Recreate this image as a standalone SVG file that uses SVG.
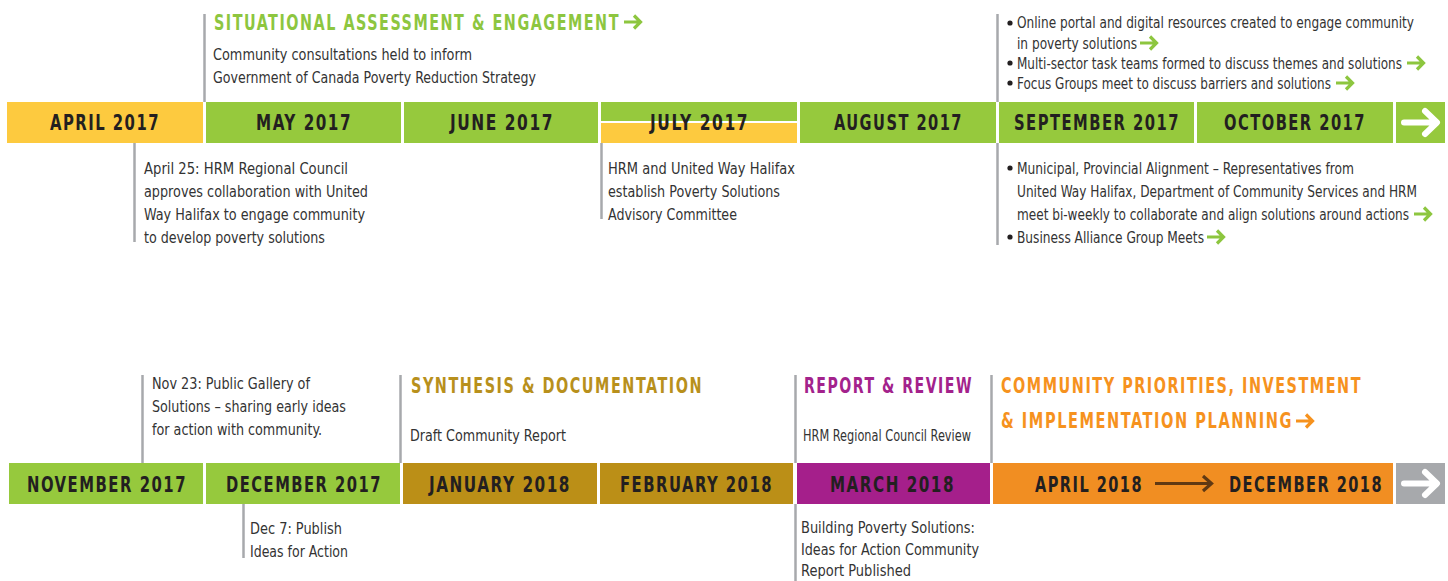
<svg xmlns="http://www.w3.org/2000/svg" width="1448" height="581" viewBox="0 0 1448 581">
<style>
.bg{fill:#ffffff}
.m{font-family:"DejaVu Sans Condensed","Liberation Sans",sans-serif;font-weight:bold;font-size:22px;letter-spacing:2px;fill:#231f20}
.h{font-family:"DejaVu Sans Condensed","Liberation Sans",sans-serif;font-weight:bold;font-size:21px;letter-spacing:2px}
.t{font-family:"DejaVu Sans Condensed","Liberation Sans",sans-serif;font-size:16.5px;fill:#333333}
.s{font-family:"DejaVu Sans Condensed","Liberation Sans",sans-serif;font-size:15px;fill:#333333}
.g{fill:#96c93d}.y{fill:#fdca3f}.o{fill:#bb8f17}.p{fill:#a51f8b}.r{fill:#f18e22}.gr{fill:#a7a9ac}
.ln{stroke:#a7a9ac;stroke-width:2.5;fill:none}
.sa{fill:none;stroke-width:3.2;stroke-linecap:butt;stroke-linejoin:miter}
.big{fill:none;stroke:#ffffff;stroke-width:6;stroke-linecap:round;stroke-linejoin:round}
</style>
<defs>
<path id="arr" d="M0,0 H16 M10,-6.5 L16.5,0 L10,6.5"/>
</defs>
<rect class="bg" width="1448" height="581"/>

<g id="connectors">
<line class="ln" x1="204.5" y1="14" x2="204.5" y2="102"/>
<line class="ln" x1="134.5" y1="143" x2="134.5" y2="242"/>
<line class="ln" x1="601.5" y1="143" x2="601.5" y2="219"/>
<line class="ln" x1="997.5" y1="14" x2="997.5" y2="102"/>
<line class="ln" x1="997.5" y1="143" x2="997.5" y2="245"/>
<line class="ln" x1="142.5" y1="375" x2="142.5" y2="463"/>
<line class="ln" x1="243.5" y1="504" x2="243.5" y2="558"/>
<line class="ln" x1="400.5" y1="375" x2="400.5" y2="463"/>
<line class="ln" x1="795.5" y1="375" x2="795.5" y2="463"/>
<line class="ln" x1="795.5" y1="504" x2="795.5" y2="581"/>
<line class="ln" x1="991.5" y1="375" x2="991.5" y2="463"/>
</g>

<g id="phase-situational">
<g transform="scale(0.8,1)">
<text class="h" x="267.5" y="30" fill="#8dc63f" textLength="507.5" lengthAdjust="spacingAndGlyphs">SITUATIONAL ASSESSMENT &amp; ENGAGEMENT</text>
<text class="t" x="266.25" y="60.5" textLength="323.75" lengthAdjust="spacingAndGlyphs">Community consultations held to inform</text>
<text class="t" x="266.25" y="83.5" textLength="403.75" lengthAdjust="spacingAndGlyphs">Government of Canada Poverty Reduction Strategy</text>
</g>
<use href="#arr" x="624" y="22" class="sa" stroke="#8dc63f"/>
</g>

<g id="apr2017">
<rect class="y" x="7" y="102" width="196" height="41"/>
<g transform="scale(0.8,1)">
<text class="m" x="62.5" y="130.5" textLength="137.5" lengthAdjust="spacingAndGlyphs">APRIL 2017</text>
<text class="t" x="180" y="174.5" textLength="255" lengthAdjust="spacingAndGlyphs">April 25: HRM Regional Council</text>
<text class="t" x="180" y="197.5" textLength="280" lengthAdjust="spacingAndGlyphs">approves collaboration with United</text>
<text class="t" x="180" y="220.5" textLength="276.25" lengthAdjust="spacingAndGlyphs">Way Halifax to engage community</text>
<text class="t" x="180" y="243.5" textLength="226.25" lengthAdjust="spacingAndGlyphs">to develop poverty solutions</text>
</g>
</g>

<g id="may2017">
<rect class="g" x="206" y="102" width="195" height="41"/>
<text class="m" transform="scale(0.8,1)" x="320" y="130.5" textLength="120" lengthAdjust="spacingAndGlyphs">MAY 2017</text>
</g>

<g id="jun2017">
<rect class="g" x="404" y="102" width="194" height="41"/>
<text class="m" transform="scale(0.8,1)" x="562.5" y="130.5" textLength="130" lengthAdjust="spacingAndGlyphs">JUNE 2017</text>
</g>

<g id="jul2017">
<rect class="g" x="601" y="102" width="196" height="19"/>
<rect class="y" x="601" y="123" width="196" height="20"/>
<g transform="scale(0.8,1)">
<text class="m" x="812.5" y="130.5" textLength="123.75" lengthAdjust="spacingAndGlyphs">JULY 2017</text>
<text class="t" x="760" y="174.5" textLength="233.75" lengthAdjust="spacingAndGlyphs">HRM and United Way Halifax</text>
<text class="t" x="760" y="197.5" textLength="215" lengthAdjust="spacingAndGlyphs">establish Poverty Solutions</text>
<text class="t" x="760" y="220.5" textLength="161.25" lengthAdjust="spacingAndGlyphs">Advisory Committee</text>
</g>
</g>

<g id="aug2017">
<rect class="g" x="800" y="102" width="196" height="41"/>
<text class="m" transform="scale(0.8,1)" x="1042.5" y="130.5" textLength="161.25" lengthAdjust="spacingAndGlyphs">AUGUST 2017</text>
</g>

<g id="sep2017">
<rect class="g" x="999" y="102" width="195" height="41"/>
<circle cx="1010" cy="23" r="2.6" fill="#231f20"/>
<circle cx="1010" cy="63" r="2.6" fill="#231f20"/>
<circle cx="1010" cy="83" r="2.6" fill="#231f20"/>
<circle cx="1010" cy="168" r="2.6" fill="#231f20"/>
<circle cx="1010" cy="237" r="2.6" fill="#231f20"/>
<g transform="scale(0.8,1)">
<text class="m" x="1267.5" y="130.5" textLength="207.5" lengthAdjust="spacingAndGlyphs">SEPTEMBER 2017</text>
<text class="t" x="1271.25" y="28" textLength="496.25" lengthAdjust="spacingAndGlyphs">Online portal and digital resources created to engage community</text>
<text class="t" x="1271.25" y="49" textLength="150" lengthAdjust="spacingAndGlyphs">in poverty solutions</text>
<text class="t" x="1271.25" y="69" textLength="481.25" lengthAdjust="spacingAndGlyphs">Multi-sector task teams formed to discuss themes and solutions</text>
<text class="t" x="1271.25" y="89" textLength="392.5" lengthAdjust="spacingAndGlyphs">Focus Groups meet to discuss barriers and solutions</text>
<text class="t" x="1271.25" y="174" textLength="421.25" lengthAdjust="spacingAndGlyphs">Municipal, Provincial Alignment – Representatives from</text>
<text class="t" x="1271.25" y="197" textLength="500" lengthAdjust="spacingAndGlyphs">United Way Halifax, Department of Community Services and HRM</text>
<text class="t" x="1271.25" y="220" textLength="490" lengthAdjust="spacingAndGlyphs">meet bi-weekly to collaborate and align solutions around actions</text>
<text class="t" x="1271.25" y="243" textLength="233.75" lengthAdjust="spacingAndGlyphs">Business Alliance Group Meets</text>
</g>
<use href="#arr" x="1140" y="43" class="sa" stroke="#8dc63f"/>
<use href="#arr" x="1407" y="63" class="sa" stroke="#8dc63f"/>
<use href="#arr" x="1336" y="83" class="sa" stroke="#8dc63f"/>
<use href="#arr" x="1414" y="214" class="sa" stroke="#8dc63f"/>
<use href="#arr" x="1207" y="237" class="sa" stroke="#8dc63f"/>
</g>

<g id="oct2017">
<rect class="g" x="1197" y="102" width="196" height="41"/>
<text class="m" transform="scale(0.8,1)" x="1530" y="130.5" textLength="177.5" lengthAdjust="spacingAndGlyphs">OCTOBER 2017</text>
</g>

<g id="more-top">
<rect class="g" x="1396" y="102" width="49" height="41"/>
<path class="big" d="M1404,122.5 H1436 M1425,111 L1437,122.5 L1425,134"/>
</g>

<g id="nov2017">
<rect class="g" x="9" y="463" width="194" height="41"/>
<g transform="scale(0.8,1)">
<text class="m" x="33.75" y="492" textLength="200" lengthAdjust="spacingAndGlyphs">NOVEMBER 2017</text>
<text class="t" x="190" y="389.5" textLength="197.5" lengthAdjust="spacingAndGlyphs">Nov 23: Public Gallery of</text>
<text class="t" x="190" y="412.5" textLength="242.5" lengthAdjust="spacingAndGlyphs">Solutions – sharing early ideas</text>
<text class="t" x="190" y="435.5" textLength="212.5" lengthAdjust="spacingAndGlyphs">for action with community.</text>
</g>
</g>

<g id="dec2017">
<rect class="g" x="206" y="463" width="194" height="41"/>
<g transform="scale(0.8,1)">
<text class="m" x="282.5" y="492" textLength="195" lengthAdjust="spacingAndGlyphs">DECEMBER 2017</text>
<text class="t" x="312.5" y="534.5" textLength="115" lengthAdjust="spacingAndGlyphs">Dec 7: Publish</text>
<text class="t" x="312.5" y="557.5" textLength="122.5" lengthAdjust="spacingAndGlyphs">Ideas for Action</text>
</g>
</g>

<g id="phase-synthesis">
<g transform="scale(0.8,1)">
<text class="h" x="513.75" y="393" fill="#b8901c" textLength="365" lengthAdjust="spacingAndGlyphs">SYNTHESIS &amp; DOCUMENTATION</text>
<text class="s" x="512.5" y="441" textLength="195" lengthAdjust="spacingAndGlyphs">Draft Community Report</text>
</g>
</g>

<g id="jan2018">
<rect class="o" x="403" y="463" width="194" height="41"/>
<text class="m" transform="scale(0.8,1)" x="536.25" y="492" textLength="177.5" lengthAdjust="spacingAndGlyphs">JANUARY 2018</text>
</g>

<g id="feb2018">
<rect class="o" x="600" y="463" width="193" height="41"/>
<text class="m" transform="scale(0.8,1)" x="775" y="492" textLength="191.25" lengthAdjust="spacingAndGlyphs">FEBRUARY 2018</text>
</g>

<g id="mar2018">
<rect class="p" x="797" y="463" width="193" height="41"/>
<g transform="scale(0.8,1)">
<text class="m" x="1037.5" y="492" textLength="156.25" lengthAdjust="spacingAndGlyphs">MARCH 2018</text>
<text class="h" x="1005" y="393" fill="#a3228c" textLength="211.25" lengthAdjust="spacingAndGlyphs">REPORT &amp; REVIEW</text>
<text class="s" x="1003.75" y="441" textLength="210" lengthAdjust="spacingAndGlyphs">HRM Regional Council Review</text>
<text class="t" x="1001.25" y="533" textLength="217.5" lengthAdjust="spacingAndGlyphs">Building Poverty Solutions:</text>
<text class="t" x="1001.25" y="555" textLength="222.5" lengthAdjust="spacingAndGlyphs">Ideas for Action Community</text>
<text class="t" x="1001.25" y="576.5" textLength="137.5" lengthAdjust="spacingAndGlyphs">Report Published</text>
</g>
</g>

<g id="apr-dec2018">
<rect class="r" x="993" y="463" width="400" height="41"/>
<path d="M1155,483.5 H1212 M1203,476 L1211.5,483.5 L1203,491" fill="none" stroke="#603913" stroke-width="3.2"/>
<g transform="scale(0.8,1)">
<text class="m" x="1293.75" y="492" textLength="135" lengthAdjust="spacingAndGlyphs">APRIL 2018</text>
<text class="m" x="1536.25" y="492" textLength="192.5" lengthAdjust="spacingAndGlyphs">DECEMBER 2018</text>
<text class="h" x="1251.25" y="393" fill="#f6921e" textLength="451.25" lengthAdjust="spacingAndGlyphs">COMMUNITY PRIORITIES, INVESTMENT</text>
<text class="h" x="1251.25" y="428" fill="#f6921e" textLength="365" lengthAdjust="spacingAndGlyphs">&amp; IMPLEMENTATION PLANNING</text>
</g>
<use href="#arr" x="1296" y="421" class="sa" stroke="#f6921e"/>
</g>

<g id="more-bottom">
<rect class="gr" x="1396" y="463" width="49" height="41"/>
<path class="big" d="M1404,483.5 H1436 M1425,472 L1437,483.5 L1425,495"/>
</g>
</svg>
